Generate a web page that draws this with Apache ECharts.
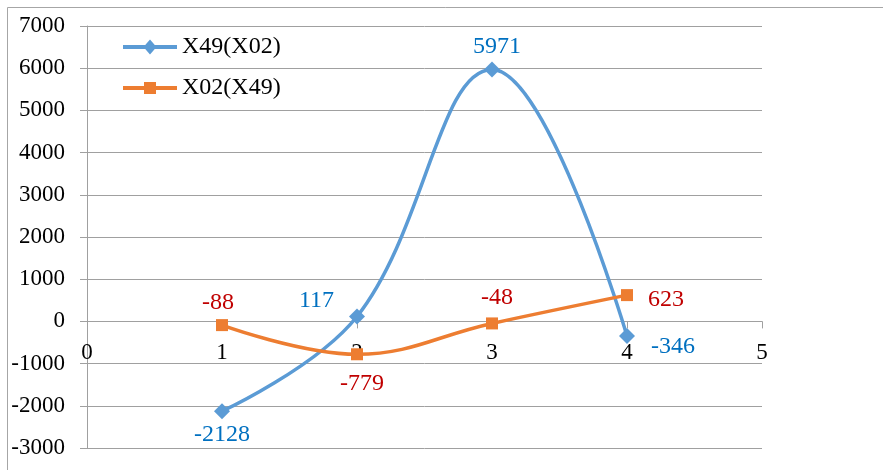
<!DOCTYPE html>
<html>
<head>
<meta charset="utf-8">
<script src="https://cdn.jsdelivr.net/npm/echarts@6/dist/echarts.min.js"></script>
<style>
html,body{margin:0;padding:0;background:#fff;}
#chart{width:883px;height:470px;}
</style>
</head>
<body>
<div id="chart"></div>
<script>
// ---- data ----
var seriesNames = ['X49(X02)', 'X02(X49)'];
var xValues = [1, 2, 3, 4];
var seriesA = [-2128, 117, 5971, -346];
var seriesB = [-88, -779, -48, 623];
var yTicks = [-3000, -2000, -1000, 0, 1000, 2000, 3000, 4000, 5000, 6000, 7000];
var xTicks = [0, 1, 2, 3, 4, 5];

// ---- label placement (style only) ----
var labelA = [
  {position: 'bottom', distance: 4, offset: [0, 0]},
  {position: 'left', distance: 15, offset: [0, -16]},
  {position: 'top', distance: 3, offset: [5, 0]},
  {position: 'right', distance: 16, offset: [0, 11]}
];
var labelB = [
  {position: 'top', distance: 4, offset: [-4, 0]},
  {position: 'bottom', distance: 11, offset: [5, 0]},
  {position: 'top', distance: 8, offset: [5, 0]},
  {position: 'right', distance: 15, offset: [0, 5]}
];

// legend icons: thick line with marker in the middle (54 x 15 box)
var CORNERS = ' M0,0 L0.01,0 L0,0.01 Z M54,15 L53.99,15 L54,14.99 Z';
var iconDiamond = 'path://M0,5.5 L22.23,5.5 L27,0 L31.77,5.5 L54,5.5 L54,9.5 L31.77,9.5 L27,15 L22.23,9.5 L0,9.5 Z' + CORNERS;
var iconSquare = 'path://M0,5.5 L21,5.5 L21,1.5 L33,1.5 L33,5.5 L54,5.5 L54,9.5 L33,9.5 L33,13.5 L21,13.5 L21,9.5 L0,9.5 Z' + CORNERS;

var FONT = '"Liberation Serif", "Times New Roman", serif';

function build(vals, labels) {
  return vals.map(function (v, i) {
    return {value: [xValues[i], v], label: labels[i]};
  });
}

var chart = echarts.init(document.getElementById('chart'), null, {renderer: 'canvas'});
chart.setOption({
  backgroundColor: '#ffffff',
  animation: false,
  graphic: [{
    type: 'polyline',
    shape: {points: [[7.5, 470], [7.5, 7.5], [883, 7.5]]},
    style: {stroke: '#A6A6A6', lineWidth: 1, fill: null},
    silent: true
  }],
  grid: {left: 87, right: 121, top: 26, bottom: 22, containLabel: false, outerBoundsMode: 'none'},
  legend: {
    orient: 'vertical',
    left: 123,
    top: 35,
    padding: 0,
    itemWidth: 54,
    itemHeight: 15,
    itemGap: 17,
    textStyle: {fontFamily: FONT, fontSize: 24, color: '#000'},
    data: [
      {name: seriesNames[0], icon: iconDiamond, itemStyle: {color: '#5B9BD5'}},
      {name: seriesNames[1], icon: iconSquare, itemStyle: {color: '#ED7D31'}}
    ]
  },
  xAxis: {
    type: 'value',
    min: xTicks[0],
    max: xTicks[xTicks.length - 1],
    interval: 1,
    axisLine: {show: true, onZero: true, lineStyle: {color: '#A0A0A0', width: 1}},
    axisTick: {show: true, length: 7, lineStyle: {color: '#A0A0A0'}},
    axisLabel: {fontFamily: FONT, fontSize: 23, color: '#000', margin: -107},
    splitLine: {show: false}
  },
  yAxis: {
    type: 'value',
    min: yTicks[0],
    max: yTicks[yTicks.length - 1],
    interval: 1000,
    axisLine: {show: true, lineStyle: {color: '#A0A0A0', width: 1}},
    axisTick: {show: true, length: 7, lineStyle: {color: '#A0A0A0'}},
    axisLabel: {fontFamily: FONT, fontSize: 23, color: '#000', margin: 22,
      formatter: function (v) { return String(v); }},
    splitLine: {show: true, lineStyle: {color: '#A0A0A0', width: 1}}
  },
  series: [
    {
      name: seriesNames[0],
      type: 'line',
      smooth: 0.4,
      symbol: 'diamond',
      symbolSize: 16,
      itemStyle: {color: '#5B9BD5'},
      lineStyle: {color: '#5B9BD5', width: 3.5},
      label: {show: true, fontFamily: FONT, fontSize: 24, color: '#0070C0',
        formatter: function (p) { return p.value[1]; }},
      data: build(seriesA, labelA),
      z: 2
    },
    {
      name: seriesNames[1],
      type: 'line',
      smooth: 0.4,
      symbol: 'rect',
      symbolSize: 12,
      itemStyle: {color: '#ED7D31'},
      lineStyle: {color: '#ED7D31', width: 3.5},
      label: {show: true, fontFamily: FONT, fontSize: 24, color: '#C00000',
        formatter: function (p) { return p.value[1]; }},
      data: build(seriesB, labelB),
      z: 3
    }
  ]
});
</script>
</body>
</html>
